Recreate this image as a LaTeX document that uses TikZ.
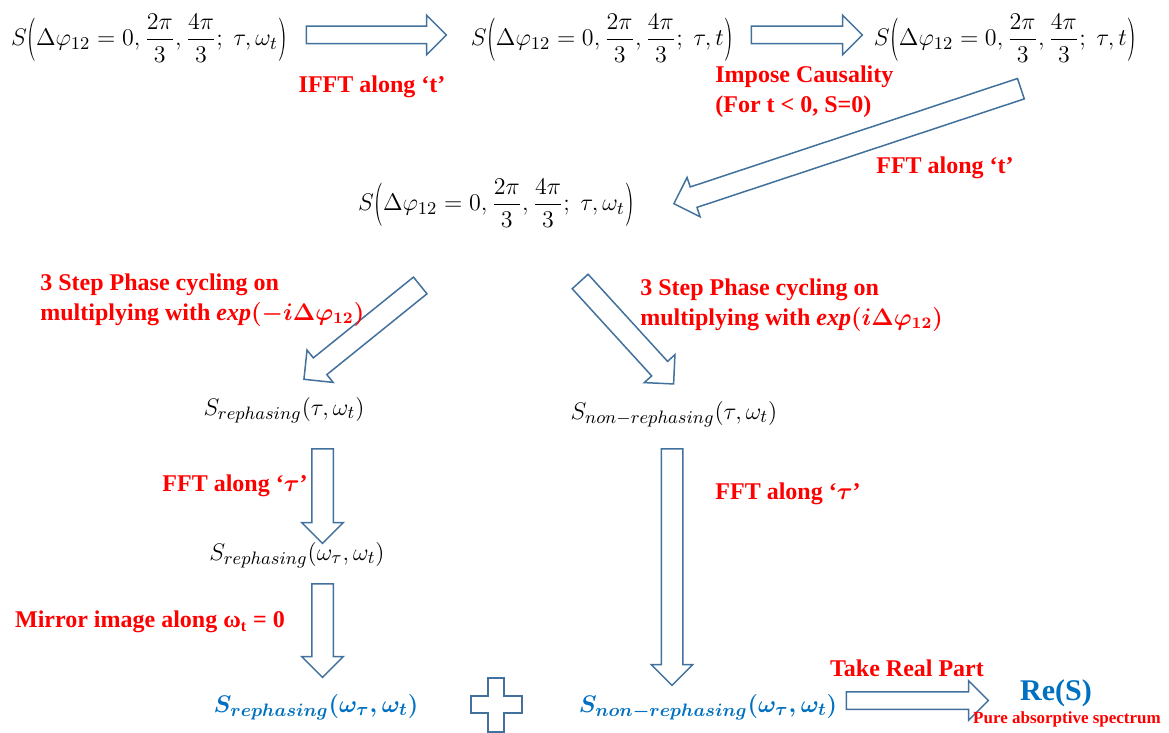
\documentclass[tikz,border=0pt]{standalone}
\usepackage{fontspec}
\setmainfont{Liberation Serif}
\usepackage{amsmath}
\usepackage{graphicx}
\usetikzlibrary{shapes.arrows,calc}

\definecolor{arrowblue}{RGB}{65,113,156}
\definecolor{specblue}{RGB}{0,112,192}

\tikzset{
  formula/.style={inner sep=0pt, font=\fontsize{13}{15}\selectfont},
  finalsig/.style={formula, text=specblue, font=\fontsize{12.5}{15}\selectfont},
  steplabel/.style={text=red, inner sep=0pt, align=left, font=\bfseries\fontsize{12}{15}\selectfont},
  fat arrow/.style={single arrow, draw=arrowblue, fill=white, line width=0.75pt,
    inner sep=5pt, minimum width=20pt, single arrow head extend=5pt, allow upside down},
  thin arrow/.style={fat arrow, inner sep=4pt, minimum width=19pt, single arrow head extend=5.5pt}
}

% compact fraction and tall parentheses for the phase steps
\newcommand{\phfrac}[2]{\mbox{\fontsize{11.5}{13}\selectfont$\dfrac{#1}{#2}$}}
\newcommand{\tallpar}[1]{\vcenter{\hbox{\scalebox{1}[1.8]{$#1$}}}}
% S(phase; ...) with the three phase steps
\newcommand{\Sphase}[1]{S\mathopen{\tallpar{(}}\Delta\varphi_{12}=0,\phfrac{2\pi}{3},\phfrac{4\pi}{3};\ #1\mathclose{\tallpar{)}}}
% block arrow between two named points
\newcommand{\flowarrow}[3][]{%
  \path let \p1=(#2), \p2=(#3), \n1={veclen(\x2-\x1,\y2-\y1)} in
    (\p1) -- (\p2) node[fat arrow, #1, midway, sloped, minimum height=\n1] {};}

\begin{document}
\begin{tikzpicture}[x=0.5pt, y=-0.5pt]
  \useasboundingbox (0,0) rectangle (1169,733);

  % arrow ends
  \coordinate (a1s) at (302,35);     \coordinate (a1e) at (442,35);
  \coordinate (a2s) at (747,35);     \coordinate (a2e) at (858,35);
  \coordinate (a3s) at (1026,87);    \coordinate (a3e) at (679,202);
  \coordinate (a4s) at (424.5,282);  \coordinate (a4e) at (308,376);
  \coordinate (a5s) at (576.5,277.5);\coordinate (a5e) at (670,380);
  \coordinate (a6s) at (322.5,443.5);\coordinate (a6e) at (322.5,538);
  \coordinate (a7s) at (322.5,578.5);\coordinate (a7e) at (322.5,672);
  \coordinate (a8s) at (672,443.5);  \coordinate (a8e) at (672,680);
  \coordinate (a9s) at (842,700.5);  \coordinate (a9e) at (984,700.5);

  \flowarrow[thin arrow]{a1s}{a1e}
  \flowarrow[thin arrow]{a2s}{a2e}
  \flowarrow{a3s}{a3e}
  \flowarrow{a4s}{a4e}
  \flowarrow{a5s}{a5e}
  \flowarrow{a6s}{a6e}
  \flowarrow{a7s}{a7e}
  \flowarrow{a8s}{a8e}
  \flowarrow[thin arrow]{a9s}{a9e}

  % plus sign
  \draw[arrowblue, line width=0.75pt, fill=white]
    (488,678) -- (504,678) -- (504,696) -- (522,696) -- (522,713) -- (504,713)
    -- (504,732) -- (488,732) -- (488,713) -- (471,713) -- (471,696) -- (488,696) -- cycle;

  % signals
  \node[formula] (sw1) at (149,38) {$\Sphase{\tau,\omega_t}$};
  \node[formula] (st1) at (602,38) {$\Sphase{\tau,t}$};
  \node[formula] (st2) at (1005,38) {$\Sphase{\tau,t}$};
  \node[formula] (sw2) at (496,203) {$\Sphase{\tau,\omega_t}$};
  \node[formula] (reph) at (284,410) {$S_{rephasing}(\tau,\omega_t)$};
  \node[formula] (nreph) at (674,414) {$S_{non-rephasing}(\tau,\omega_t)$};
  \node[formula] (rephw) at (297,555) {$S_{rephasing}(\omega_\tau,\omega_t)$};
  \node[finalsig] (rephm) at (316,707) {{\boldmath $S_{rephasing}(\omega_\tau,\omega_t)$}};
  \node[finalsig] (nrephw) at (708,707) {{\boldmath $S_{non-rephasing}(\omega_\tau,\omega_t)$}};
  \node[text=specblue, inner sep=0pt, font=\bfseries\fontsize{15}{17}\selectfont] (res) at (1056,693) {Re(S)};
  \node[steplabel, font=\bfseries\fontsize{8.5}{10}\selectfont] (pure) at (1067,719) {Pure absorptive spectrum};

  % steps
  \node[steplabel] (ifft) at (372,87) {IFFT along `t'};
  \node[steplabel, anchor=west] (caus) at (715,92) {Impose Causality\\(For t < 0, S=0)};
  \node[steplabel] (fftt) at (945,168) {FFT along `t'};
  \node[steplabel, anchor=west] (pcl) at (40,300)
    {3 Step Phase cycling on\\multiplying with {\boldmath $\mathit{exp}(-i\Delta\varphi_{12})$}};
  \node[steplabel, anchor=west] (pcr) at (640,305)
    {3 Step Phase cycling on\\multiplying with {\boldmath $\mathit{exp}(i\Delta\varphi_{12})$}};
  \node[steplabel] (fftl) at (235,486) {FFT along `{\boldmath $\tau$}'};
  \node[steplabel] (fftr) at (788,494) {FFT along `{\boldmath $\tau$}'};
  \node[steplabel] (mirror) at (150,622) {Mirror image along ω\textsubscript{t} = 0};
  \node[steplabel] (real) at (907,668) {Take Real Part};
\end{tikzpicture}
\end{document}
